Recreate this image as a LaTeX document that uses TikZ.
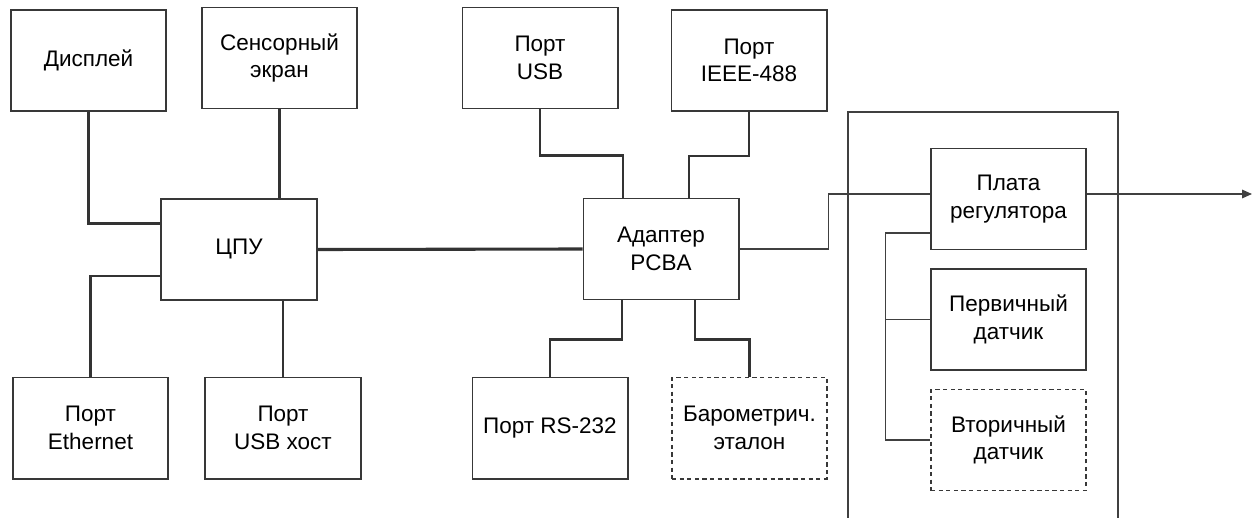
\documentclass[tikz,border=0pt]{standalone}
\usepackage{fontspec}
\setmainfont{Liberation Sans}
\usepackage{tikz}
\usetikzlibrary{positioning, arrows.meta, calc}

\begin{document}
\begin{tikzpicture}[
        x=0.025cm, y=-0.025cm,
        every node/.style={font=\fontsize{16}{19.5}\selectfont},
        block/.style={rectangle, draw=black!78, line width=1.4pt, minimum width=3.875cm, minimum height=2.525cm, inner sep=0pt, align=center},
        option/.style={block, dash pattern=on 3pt off 2.4pt},
        link/.style={draw=black!80, line width=1.5pt},
        bus/.style={draw=black!75, line width=1pt}
    ]
    \useasboundingbox (0,0) rectangle (1254,518);
%
    \node[block] (cpu) at (239,249.5) {ЦПУ};
    \node[block] (disp) at (88.5,60.5) {Дисплей};
    \node[block] (touch) at (279.5,58) {Сенсорный\\экран};
    \node[block] (eth) at (90.5,428) {Порт\\Ethernet};
    \node[block] (usbh) at (283,428) {Порт\\USB хост};
%
    \node[block] (pcba) at (661,249) {Адаптер\\PCBA};
    \node[block] (usb) at (540,58) {Порт\\USB};
    \node[block] (ieee) at (749,60.5) {Порт\\IEEE-488};
    \node[block] (rs) at (550,428) {Порт RS-232};
    \node[option] (baro) at (749.5,428) {Барометрич.\\эталон};
%
    \draw[bus] (848,530) -- (848,112) -- (1118,112) -- (1118,530);
    \node[block, line width=1.1pt] (ctrl) at (1008.5,199) {Плата\\регулятора};
    \node[block, line width=1.1pt, below=0.45cm of ctrl] (prim) {Первичный\\датчик};
    \node[option, line width=1.1pt, below=0.45cm of prim] (sec) {Вторичный\\датчик};
    \coordinate (out) at (1252,194);
%
    \draw[link] (disp.south) |- ($(cpu.west)+(0,-26)$);
    \draw[link] (touch.south) -- (touch.south |- cpu.north);
    \draw[link] (eth.north) |- ($(cpu.west)+(0,26.5)$);
    \draw[link] (usbh.north) -- (usbh.north |- cpu.south);
    \draw[link, line width=2.2pt] (cpu.east) -- (pcba.west);
%
    \draw[link] (usb.south) -- ++(0,46) -| ($(pcba.north)+(-38,0)$);
    \draw[link] (ieee.south) -- ++(0,44) -| ($(pcba.north)+(28,0)$);
    \draw[link] ($(pcba.south)+(-39,0)$) -- ++(0,39) -| (rs.north);
    \draw[link] ($(pcba.south)+(34,0)$) -- ++(0,39) -| (baro.north);
%
    \draw[bus] (pcba.east) -- ++(89,0) |- (ctrl.west |- out);
    \draw[bus, -{Triangle[length=7pt, width=6pt]}] (ctrl.east |- out) -- (out);
    \draw[bus] ($(ctrl.west)+(0,34)$) -- ++(-45,0) coordinate (tap) |- (sec.west);
    \draw[bus] (prim.west) -- (prim.west -| tap);
%
    \end{tikzpicture}
\end{document}
